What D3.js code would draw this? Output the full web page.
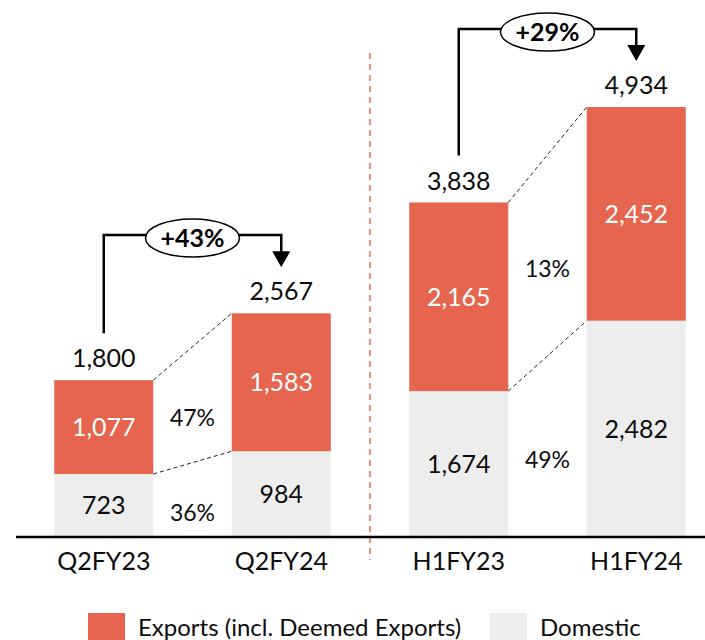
<!DOCTYPE html>
<html>
<head>
<meta charset="utf-8">
<script src="https://cdn.jsdelivr.net/npm/d3@7"></script>
<style>
  html, body { margin: 0; padding: 0; background: #ffffff; }
  svg { display: block; font-family: Lato, "Open Sans", sans-serif; }
</style>
</head>
<body>
<svg id="chart" width="705" height="640"></svg>
<script>
// Revenue split by period (values in crore)
const categories = ["Q2FY23", "Q2FY24", "H1FY23", "H1FY24"];
const domestic   = [723, 984, 1674, 2482];
const exportsVal = [1077, 1583, 2165, 2452];
const totals     = [1800, 2567, 3838, 4934];

// Year-on-year comparisons: [from index, to index]
const pairs          = [[0, 1], [2, 3]];
const totalGrowth    = ["+43%", "+29%"];
const exportsGrowth  = ["47%", "13%"];
const domesticGrowth = ["36%", "49%"];

const seriesNames = ["Exports (incl. Deemed Exports)", "Domestic"];
const colors = { exports: "#E5654F", domestic: "#EDEDED", text: "#0d0d0d", divider: "#E0705A" };

const svg = d3.select("#chart");
const W = 705, H = 640;

const x = d3.scaleBand()
  .domain(categories)
  .range([15, 725])
  .paddingInner(0.442)
  .paddingOuter(0.221);

const y = d3.scaleLinear()
  .domain([0, 4934])
  .range([537, 107]);

const bw = x.bandwidth();
const cx = c => x(c) + bw / 2;

// Stacked bars: domestic at the bottom, exports on top
const stackData = categories.map((c, i) => ({ cat: c, domestic: domestic[i], exports: exportsVal[i] }));
const stacked = d3.stack().keys(["domestic", "exports"])(stackData);

svg.append("g").selectAll("g")
  .data(stacked)
  .join("g")
  .attr("fill", d => colors[d.key])
  .selectAll("rect")
  .data(d => d)
  .join("rect")
  .attr("x", d => x(d.data.cat))
  .attr("y", d => y(d[1]))
  .attr("width", bw)
  .attr("height", d => y(d[0]) - y(d[1]));

// Segment value labels
svg.append("g").selectAll("text")
  .data(stacked.flatMap(s => s.map(d => ({ key: s.key, d }))))
  .join("text")
  .attr("x", o => cx(o.d.data.cat))
  .attr("y", o => (y(o.d[0]) + y(o.d[1])) / 2)
  .attr("dy", "0.36em")
  .attr("text-anchor", "middle")
  .attr("font-size", 25)
  .attr("fill", o => o.key === "exports" ? "#ffffff" : colors.text)
  .text(o => d3.format(",")(o.d.data[o.key]));

// Total labels above bars
svg.append("g").selectAll("text")
  .data(categories)
  .join("text")
  .attr("x", c => cx(c))
  .attr("y", (c, i) => y(totals[i]) - 13)
  .attr("text-anchor", "middle")
  .attr("font-size", 25)
  .attr("fill", colors.text)
  .text((c, i) => d3.format(",")(totals[i]));

// Dashed connectors between compared bars and the growth percentages
const conn = svg.append("g");
pairs.forEach(([a, b], k) => {
  const ca = categories[a], cb = categories[b];
  const xa = x(ca) + bw, xb = x(cb);
  [[totals[a], totals[b]], [domestic[a], domestic[b]]].forEach(([va, vb]) => {
    conn.append("line")
      .attr("x1", xa).attr("y1", y(va))
      .attr("x2", xb).attr("y2", y(vb))
      .attr("stroke", "#222")
      .attr("stroke-width", 1)
      .attr("stroke-dasharray", "4,3");
  });
  const mid = (xa + xb) / 2;
  const expMid = ((y(totals[a]) + y(domestic[a])) / 2 + (y(totals[b]) + y(domestic[b])) / 2) / 2;
  const domMid = ((y(domestic[a]) + y(0)) / 2 + (y(domestic[b]) + y(0)) / 2) / 2;
  conn.append("text")
    .attr("x", mid).attr("y", expMid + 13).attr("dy", "0.36em")
    .attr("text-anchor", "middle").attr("font-size", 23).attr("fill", colors.text)
    .text(exportsGrowth[k]);
  conn.append("text")
    .attr("x", mid).attr("y", domMid + 13).attr("dy", "0.36em")
    .attr("text-anchor", "middle").attr("font-size", 23).attr("fill", colors.text)
    .text(domesticGrowth[k]);
});

// Growth brackets with arrow and oval badge
const bracketY = [235, 29];
pairs.forEach(([a, b], k) => {
  const xa = cx(categories[a]), xb = cx(categories[b]);
  const yTop = bracketY[k];
  const yStart = y(totals[a]) - 47;
  const yTip = y(totals[b]) - 46;
  const g = svg.append("g");
  g.append("path")
    .attr("d", `M${xa},${yStart} V${yTop} H${xb} V${yTip - 14}`)
    .attr("fill", "none")
    .attr("stroke", "#000")
    .attr("stroke-width", 2.5);
  g.append("path")
    .attr("d", `M${xb - 9},${yTip - 16} L${xb + 9},${yTip - 16} L${xb},${yTip} Z`)
    .attr("fill", "#000");
  const ex = (xa + xb) / 2, ey = yTop + 3;
  g.append("ellipse")
    .attr("cx", ex).attr("cy", ey)
    .attr("rx", 47).attr("ry", 19)
    .attr("fill", "#fff")
    .attr("stroke", "#000")
    .attr("stroke-width", 1.5);
  g.append("text")
    .attr("x", ex).attr("y", ey).attr("dy", "0.36em")
    .attr("text-anchor", "middle")
    .attr("font-size", 25)
    .attr("font-weight", "bold")
    .attr("fill", "#000")
    .text(totalGrowth[k]);
});

// Divider between quarterly and half-yearly groups
const divX = (x(categories[1]) + bw + x(categories[2])) / 2;
svg.append("line")
  .attr("x1", divX).attr("x2", divX)
  .attr("y1", 53).attr("y2", 560)
  .attr("stroke", colors.divider)
  .attr("stroke-width", 1.5)
  .attr("stroke-dasharray", "6,5");

// Category axis
const axis = d3.axisBottom(x).tickSize(0).tickPadding(15);
const ax = svg.append("g")
  .attr("transform", `translate(0,${y(0)})`)
  .call(axis);
ax.select(".domain").remove();
ax.selectAll("text")
  .attr("font-size", 25)
  .attr("font-family", "Lato, 'Open Sans', sans-serif")
  .attr("fill", colors.text);
svg.append("line")
  .attr("x1", 16).attr("x2", W)
  .attr("y1", y(0)).attr("y2", y(0))
  .attr("stroke", "#000")
  .attr("stroke-width", 2.5);

// Legend
const legendItems = [
  { name: seriesNames[0], color: colors.exports, x: 88 },
  { name: seriesNames[1], color: colors.domestic, x: 490 }
];
const lg = svg.append("g");
legendItems.forEach(it => {
  lg.append("rect")
    .attr("x", it.x).attr("y", 613)
    .attr("width", 37).attr("height", 30)
    .attr("fill", it.color);
  lg.append("text")
    .attr("x", it.x + 50).attr("y", 627).attr("dy", "0.36em")
    .attr("font-size", 24)
    .attr("fill", colors.text)
    .text(it.name);
});
</script>
</body>
</html>
